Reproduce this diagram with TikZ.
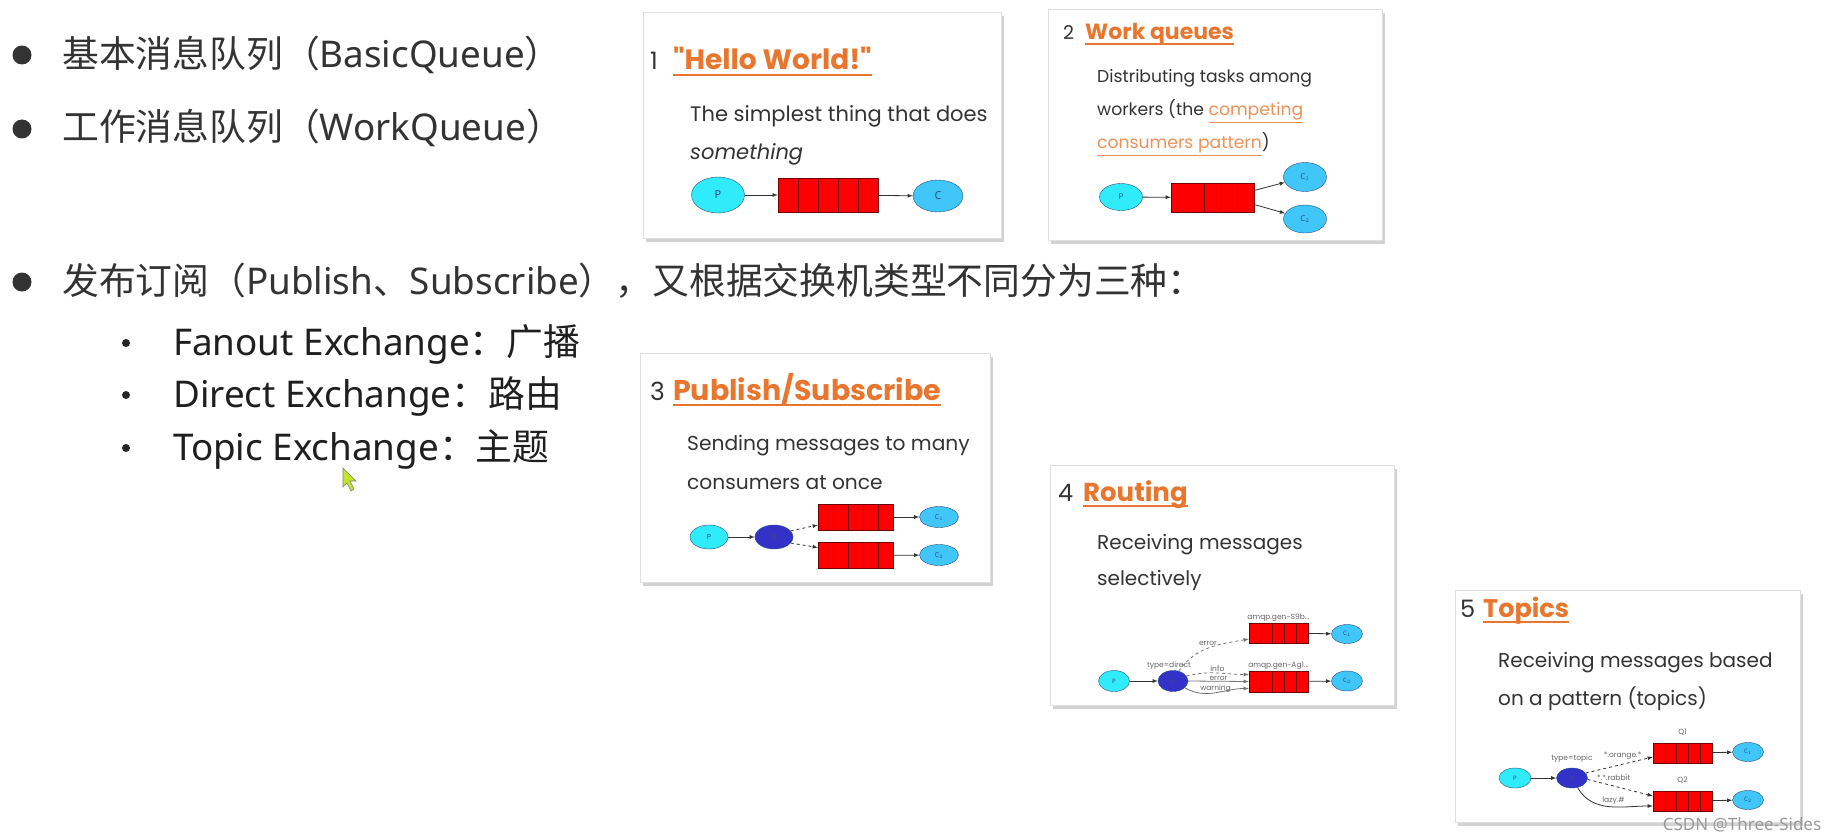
\documentclass[tikz,border=0pt]{standalone}
\usepackage{fontspec}
\setmainfont{Noto Sans}
\newfontfamily\cjk{Noto Sans CJK SC}
\newfontfamily\cardfont{Poppins}
\usepackage{xcolor}
\usepackage{tikz}
\usetikzlibrary{shadows}
\usetikzlibrary{shapes,calc,backgrounds}

\definecolor{rabbit}{RGB}{232,118,46}
\definecolor{linkor}{RGB}{236,146,88}
\definecolor{txt}{RGB}{51,51,51}
\definecolor{pcyan}{RGB}{48,236,250}
\definecolor{cblue}{RGB}{64,198,248}
\definecolor{xblue}{RGB}{50,50,200}
\definecolor{rim}{RGB}{40,80,130}
\definecolor{qline}{RGB}{110,0,0}

\newcommand{\sz}[1]{\fontsize{#1}{#1}\selectfont}
\newcommand{\lnk}[1]{{\color{linkor}\underline{#1}}}

\tikzset{
  item/.style={anchor=base west, inner sep=0, text=txt, font=\sz{36.8}},
  card/.style={fill=white, draw=black!12,
    drop shadow={shadow xshift=3pt, shadow yshift=-4pt, opacity=.35}},
  num/.style={anchor=base west, inner sep=0, text=txt},
  ttl/.style={anchor=base west, inner sep=0, text=rabbit},
  body/.style={anchor=base west, inner sep=0, text=txt},
  uline/.style={rabbit, line width=2.5pt},
  prod/.style={ellipse, draw=rim, fill=pcyan, inner sep=0, text=rim},
  cons/.style={ellipse, draw=rim, fill=cblue, inner sep=0, text=rim},
  exch/.style={ellipse, draw=rim, fill=xblue, inner sep=0, text=black!70},
  queue/.style={rectangle, draw=qline, fill=red, inner sep=0,
    path picture={
      \foreach \i in {1,...,4}
        \draw[qline] ($(path picture bounding box.south west)!\i/5!(path picture bounding box.south east)$)
          -- ($(path picture bounding box.north west)!\i/5!(path picture bounding box.north east)$);
    }},
  lbl/.style={inner sep=1pt, text=black!60, font=\cardfont\sz{7.5}},
  flow/.style={->, black!80, line width=0.8pt}
}

\begin{document}
\begin{tikzpicture}[x=1pt,y=1pt,>=latex]
  \useasboundingbox[fill=white] (0,0) rectangle (1834,-840);

  % list on the left
  \foreach \y in {55,129,282}
    \fill[txt] (22,-\y) circle (9.5);
  \foreach \y in {343,395,448}
    \fill[black!85] (126,-\y) circle (4);
  \node (l1) at (62,-68) [item] {{\cjk 基本消息队列（}BasicQueue{\cjk ）}};
  \node (l2) at (62,-141) [item] {{\cjk 工作消息队列（}WorkQueue{\cjk ）}};
  \node (l3) at (62,-294) [item] {{\cjk 发布订阅（}Publish{\cjk 、}Subscribe{\cjk ），又根据交换机类型不同分为三种：}};
  \node (l4) at (173,-355) [item, text=black!88] {Fanout Exchange{\cjk ：广播}};
  \node (l5) at (173,-407) [item, text=black!88] {Direct Exchange{\cjk ：路由}};
  \node (l6) at (173,-460) [item, text=black!88] {Topic Exchange{\cjk ：主题}};

  % mouse pointer
  \filldraw[fill={rgb,255:red,192;green,228;blue,40}, draw=black!50, line width=0.6pt]
    (343,-468) -- (343,-487) -- (347,-483) -- (351,-491) -- (354,-489) -- (350,-481) -- (356,-481) -- cycle;

  % cards
  \path[card] (643,-12) rectangle (1001,-238);
  \path[card] (1048,-9) rectangle (1382,-240);
  \path[card] (640,-353) rectangle (990,-582);
  \path[card] (1050,-465) rectangle (1394,-705);
  \path[card] (1455,-590) rectangle (1800,-822);

  % 1 hello world
  \node (n1) at (650,-70) [num, font=\cardfont\sz{24}] {1};
  \node (t1) at (673,-70) [ttl, font=\cardfont\bfseries\sz{28}] {"Hello World!"};
  \draw[uline] ([yshift=-5pt]t1.base west) -- ([yshift=-5pt]t1.base east);
  \node (s1) at (690,-122) [body, font=\cardfont\sz{21}] {The simplest thing that does};
  \node (s2) at (690,-160) [body, font=\cardfont\itshape\sz{21}] {something};
  \node (p1) at (718,-195) [prod, minimum width=53pt, minimum height=36pt, font=\bfseries\sz{11}] {P};
  \node (q1) at (828,-195) [queue, minimum width=100pt, minimum height=34pt] {};
  \node (c1) at (938,-196) [cons, minimum width=50pt, minimum height=32pt, font=\bfseries\sz{11}] {C};
  \draw[flow] (p1) -- (q1);
  \draw[flow] (q1) -- (c1);

  % 2 work queues
  \node (n2) at (1063,-40) [num, font=\cardfont\sz{19}] {2};
  \node (t2) at (1085,-40) [ttl, font=\cardfont\bfseries\sz{22}] {Work queues};
  \draw[uline, line width=2pt] ([yshift=-4pt]t2.base west) -- ([yshift=-4pt]t2.base east);
  \node (s3) at (1097,-83) [body, font=\cardfont\sz{17.2}] {Distributing tasks among};
  \node (s4) at (1097,-116) [body, font=\cardfont\sz{17.2}] {workers (the \lnk{competing}};
  \node (s5) at (1097,-149) [body, font=\cardfont\sz{17.2}] {\lnk{consumers pattern})};
  \node (p2) at (1121,-197) [prod, minimum width=43pt, minimum height=27pt, font=\sz{8}] {P};
  \node (q2) at (1212.5,-197.5) [queue, minimum width=83pt, minimum height=29pt] {};
  \node (c21) at (1305,-177) [cons, minimum width=43pt, minimum height=29pt, font=\sz{8}] {C$_1$};
  \node (c22) at (1305,-219) [cons, minimum width=43pt, minimum height=28pt, font=\sz{8}] {C$_2$};
  \draw[flow] (p2) -- (q2);
  \draw[flow] ([yshift=7pt]q2.east) -- (c21);
  \draw[flow] ([yshift=-7pt]q2.east) -- (c22);

  % 3 publish/subscribe
  \node (n3) at (650,-400) [num, font=\cardfont\sz{25}] {3};
  \node (t3) at (673,-400) [ttl, font=\cardfont\bfseries\sz{28.5}] {Publish/Subscribe};
  \draw[uline] ([yshift=-5pt]t3.base west) -- ([yshift=-5pt]t3.base east);
  \node (s6) at (687,-450) [body, font=\cardfont\sz{20.2}] {Sending messages to many};
  \node (s7) at (687,-489) [body, font=\cardfont\sz{20.2}] {consumers at once};
  \node (p3) at (709,-537) [prod, minimum width=38pt, minimum height=24pt, font=\sz{7}] {P};
  \node (x3) at (774,-537) [exch, minimum width=38pt, minimum height=24pt, font=\sz{7}] {X};
  \node (q31) at (855.5,-517) [queue, minimum width=75pt, minimum height=26pt] {};
  \node (q32) at (855.5,-555.5) [queue, minimum width=75pt, minimum height=26pt] {};
  \node (c31) at (939,-517) [cons, minimum width=39pt, minimum height=21pt, font=\sz{7}] {C$_1$};
  \node (c32) at (939,-555) [cons, minimum width=39pt, minimum height=21pt, font=\sz{7}] {C$_2$};
  \draw[flow] (p3) -- (x3);
  \draw[flow, dashed] (x3.20) -- ([yshift=-8pt]q31.west);
  \draw[flow, dashed] (x3.-20) -- ([yshift=8pt]q32.west);
  \draw[flow] (q31) -- (c31);
  \draw[flow] (q32) -- (c32);

  % 4 routing
  \node (n4) at (1058,-501) [num, font=\cardfont\sz{24}] {4};
  \node (t4) at (1083,-501) [ttl, font=\cardfont\bfseries\sz{26}] {Routing};
  \draw[uline] ([yshift=-5pt]t4.base west) -- ([yshift=-5pt]t4.base east);
  \node (s8) at (1097,-549) [body, font=\cardfont\sz{20}] {Receiving messages};
  \node (s9) at (1097,-585) [body, font=\cardfont\sz{20}] {selectively};
  \node (p4) at (1114,-681) [prod, minimum width=31pt, minimum height=21pt, font=\sz{6}] {P};
  \node (x4) at (1173,-681) [exch, minimum width=30pt, minimum height=21pt, font=\sz{6}] {X};
  \node (q41) at (1278.5,-633) [queue, minimum width=59pt, minimum height=20pt] {};
  \node (q42) at (1278.5,-681.5) [queue, minimum width=59pt, minimum height=21pt] {};
  \node (c41) at (1347,-634) [cons, minimum width=31pt, minimum height=19pt, font=\sz{6}] {C$_1$};
  \node (c42) at (1347,-681) [cons, minimum width=31pt, minimum height=20pt, font=\sz{6}] {C$_2$};
  \node (g41) at (q41.north) [lbl, anchor=south] {amqp.gen-S9b...};
  \node (g42) at (q42.north) [lbl, anchor=south] {amqp.gen-Ag1...};
  \node (d4) at ([xshift=-4pt]x4.north) [lbl, anchor=south] {type=direct};
  \draw[flow] (p4) -- (x4);
  \draw[flow, dashed, black!55] (x4.60) to[out=55, in=190] node[lbl, pos=.6, above left=-2pt] {error} ([yshift=-6pt]q41.west);
  \draw[flow, dashed, black!55] (x4.20) to[out=15, in=180] node[lbl, pos=.5, above] {info} ([yshift=7pt]q42.west);
  \draw[flow, black!55] (x4.east) -- node[lbl, pos=.5, above=-1pt] {error} (q42.west);
  \draw[flow, black!55] (x4.-30) to[out=-30, in=180] node[lbl, pos=.5, above=-1pt] {warning} ([yshift=-7pt]q42.west);
  \draw[flow] (q41) -- (c41);
  \draw[flow] (q42) -- (c42);

  % 5 topics
  \node (n5) at (1460,-617) [num, font=\cardfont\sz{24}] {5};
  \node (t5) at (1483,-617) [ttl, font=\cardfont\bfseries\sz{25.5}] {Topics};
  \draw[uline] ([yshift=-5pt]t5.base west) -- ([yshift=-5pt]t5.base east);
  \node (s10) at (1498,-667) [body, font=\cardfont\sz{20}] {Receiving messages based};
  \node (s11) at (1498,-705) [body, font=\cardfont\sz{20}] {on a pattern (topics)};
  \node (p5) at (1515,-778) [prod, minimum width=32pt, minimum height=20pt, font=\sz{6}] {P};
  \node (x5) at (1572,-778) [exch, minimum width=31pt, minimum height=20pt, font=\sz{6}] {X};
  \node (q51) at (1682.5,-753) [queue, minimum width=59pt, minimum height=20pt] {};
  \node (q52) at (1682.5,-801) [queue, minimum width=59pt, minimum height=20pt] {};
  \node (c51) at (1748,-752) [cons, minimum width=31pt, minimum height=19pt, font=\sz{6}] {C$_1$};
  \node (c52) at (1748,-800) [cons, minimum width=31pt, minimum height=19pt, font=\sz{6}] {C$_2$};
  \node (g51) at (q51.north) [lbl, anchor=south, yshift=6pt] {Q1};
  \node (g52) at (q52.north) [lbl, anchor=south, yshift=6pt] {Q2};
  \node (d5) at (x5.north) [lbl, anchor=south, yshift=4pt] {type=topic};
  \draw[flow] (p5) -- (x5);
  \draw[flow, dashed] (x5.20) -- node[lbl, pos=.55, above=3pt] {*.orange.*} ([yshift=-4pt]q51.west);
  \draw[flow, dashed] (x5.-5) -- node[lbl, pos=.4, above=4pt] {*.*.rabbit} ([yshift=5pt]q52.west);
  \draw[flow] (x5.-60) to[out=-60, in=180] node[lbl, pos=.55, above=1pt] {lazy.\#} ([yshift=-5pt]q52.west);
  \draw[flow] (q51) -- (c51);
  \draw[flow] (q52) -- (c52);

  % watermark
  \node (wm) at (1742,-825) [text=black!40, font=\sz{17}] {CSDN @Three-Sides};
\end{tikzpicture}
\end{document}
